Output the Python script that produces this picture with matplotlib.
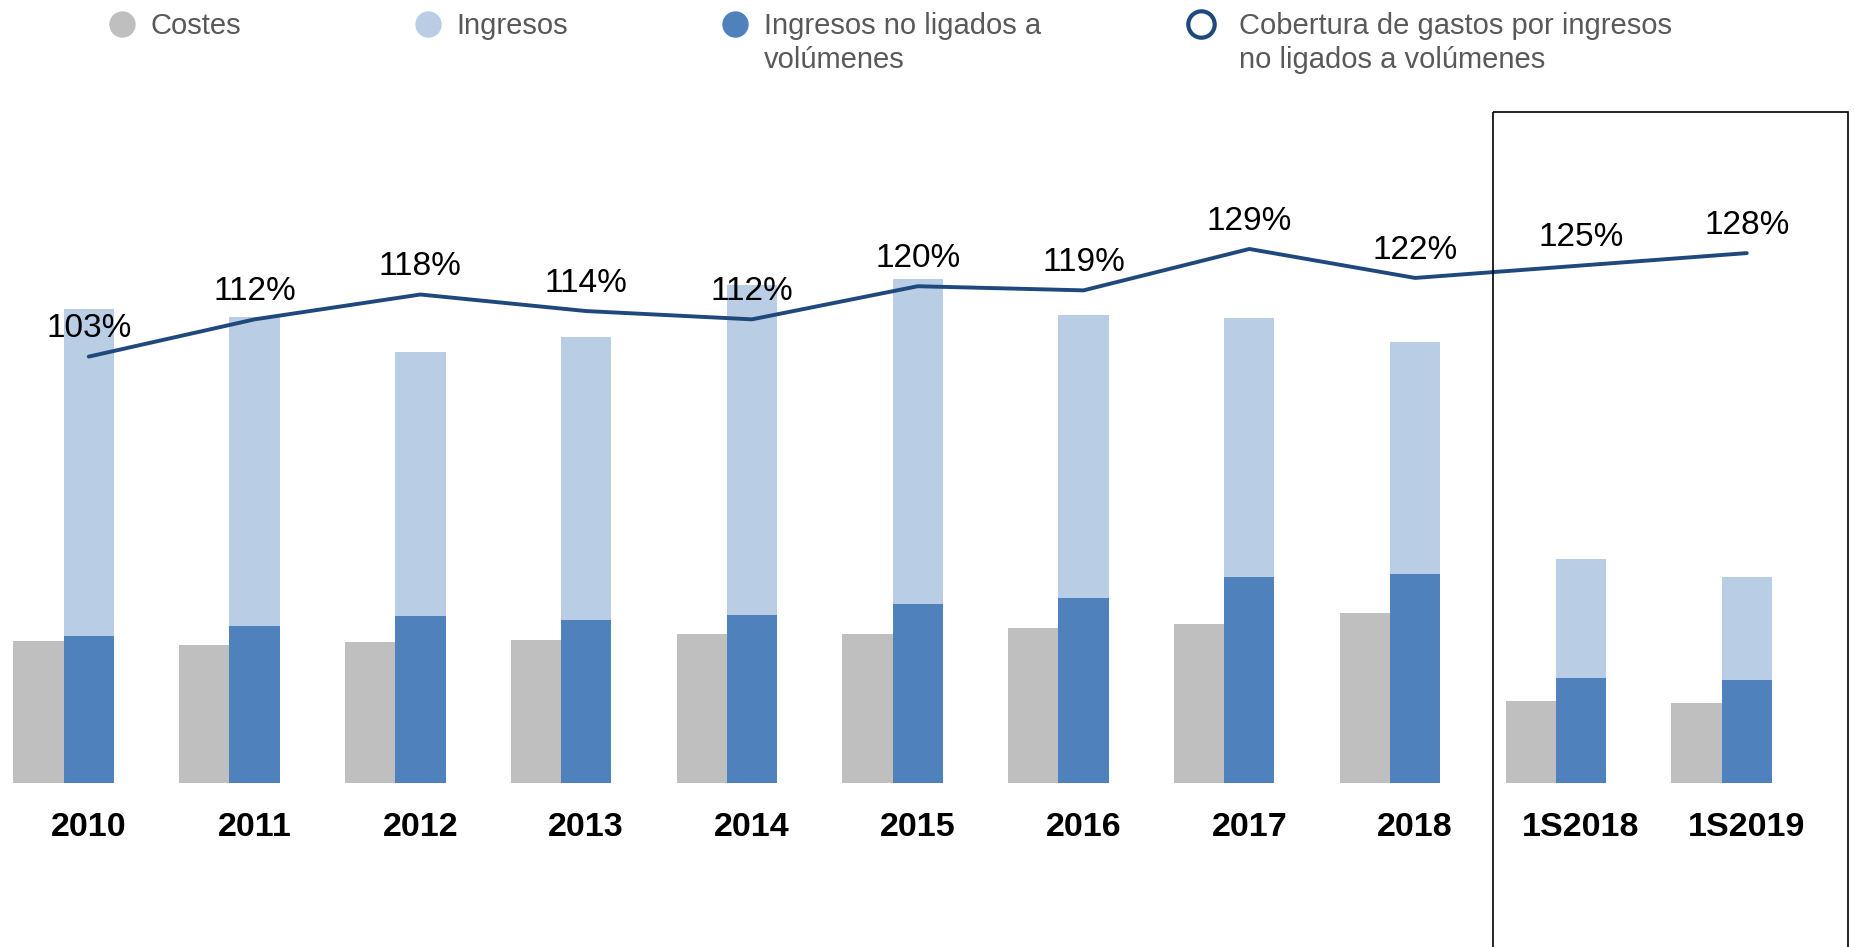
import numpy as np
import matplotlib
matplotlib.use('Agg')
import matplotlib.pyplot as plt
from matplotlib.patches import Rectangle

plt.rcParams['font.family'] = ['Liberation Sans', 'DejaVu Sans']

# datos (unidades relativas)
periodos = ['2010', '2011', '2012', '2013', '2014', '2015', '2016', '2017', '2018', '1S2018', '1S2019']
costes = [120, 117, 119, 121, 126, 126, 131, 134, 144, 69, 68]
ingresos = [401, 394, 364, 377, 421, 426, 396, 393, 373, 189, 174]
ingresos_no_vol = [124, 133, 141, 138, 142, 151, 156, 174, 177, 89, 87]
cobertura = [103, 112, 118, 114, 112, 120, 119, 129, 122, 125, 128]

c_gris = '#BFBFBF'
c_claro = '#B9CDE5'
c_azul = '#4F81BD'
c_linea = '#1F497D'
c_texto = '#595959'

fig = plt.figure(figsize=(18.54, 9.47), dpi=100)
ax = fig.add_axes([0, 0.1732, 1, 0.8268])
x = np.arange(len(periodos))
w = 0.303

ax.bar(x - w, costes, w, color=c_gris, align='center')
ax.bar(x, ingresos, w, color=c_claro)
ax.bar(x, ingresos_no_vol, w, color=c_azul)
ax.set_xlim(-0.5356, 10.647)
ax.set_ylim(0, 662)
ax.set_yticks([])
ax.set_xticks(x, periodos, fontsize=24.5, fontweight='bold')
ax.tick_params(axis='x', length=0, pad=21)
for s in ax.spines.values():
    s.set_visible(False)

ax2 = ax.twinx()
ax2.plot(x, cobertura, color=c_linea, lw=2.8, solid_capstyle='round')
ax2.set_ylim(0, 662 / 3.5)
ax2.set_yticks([])
for s in ax2.spines.values():
    s.set_visible(False)
for xi, v in zip(x, cobertura):
    ax2.annotate('%d%%' % v, (xi, v), xytext=(0, 20), textcoords='offset points',
                 ha='center', va='center', fontsize=24, color='black')

# leyenda y recuadro en coordenadas de pixel
lax = fig.add_axes([0, 0, 1, 1])
lax.set_xlim(0, 1854)
lax.set_ylim(947, 0)
lax.axis('off')

leyenda = [
    (122, 151, 'Costes', c_gris, c_gris),
    (428, 456, 'Ingresos', c_claro, c_claro),
    (735, 764, 'Ingresos no ligados a\nvolúmenes', c_azul, c_azul),
    (1201, 1239, 'Cobertura de gastos por ingresos\nno ligados a volúmenes', 'white', c_linea),
]
for xm, xt, txt, fc, ec in leyenda:
    lax.plot([xm], [24], 'o', ms=19, mfc=fc, mec=ec, mew=3 if fc == 'white' else 0)
    lax.text(xt, 12, txt, fontsize=21, color=c_texto, va='top', ha='left', linespacing=1.25)

lax.add_patch(Rectangle((1493, 112), 1848 - 1493, 850, fill=False, ec='black', lw=1.2, clip_on=False))

fig.savefig('out.png', dpi=100)
